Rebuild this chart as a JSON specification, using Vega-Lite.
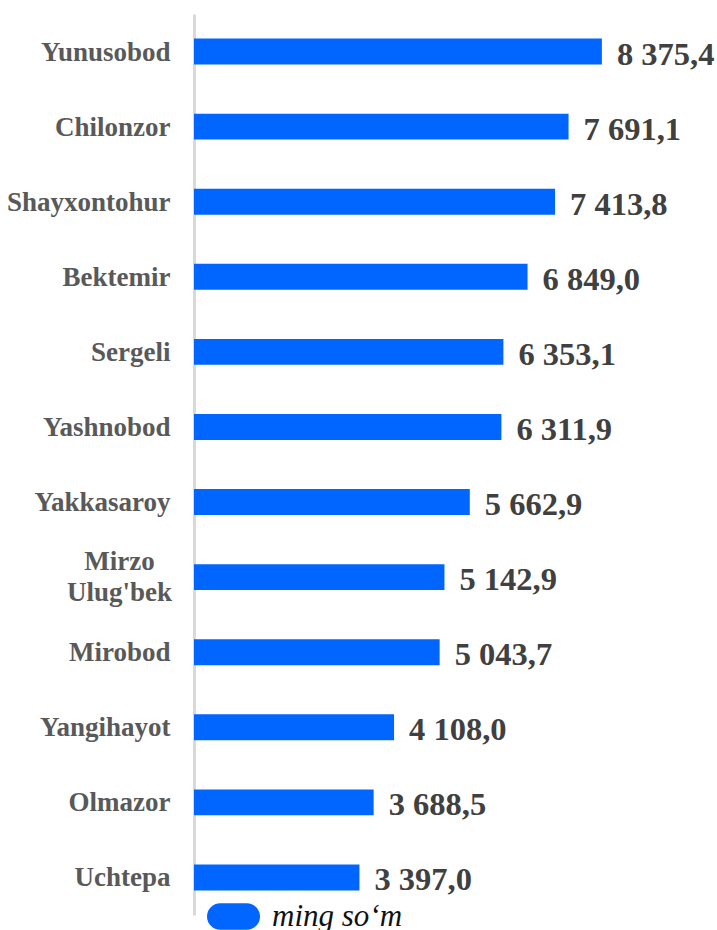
{
  "$schema": "https://vega.github.io/schema/vega-lite/v6.json",
  "width": 523,
  "height": 901,
  "autosize": {"type": "none"},
  "padding": {"left": 194, "top": 14, "right": 0, "bottom": 15},
  "background": "white",
  "config": {
    "view": {"stroke": null},
    "locale": {"number": {"decimal": ",", "thousands": " ", "grouping": [3], "currency": ["", ""]}}
  },
  "data": {
    "values": [
      {"tuman": "Yunusobod", "qiymat": 8375.4},
      {"tuman": "Chilonzor", "qiymat": 7691.1},
      {"tuman": "Shayxontohur", "qiymat": 7413.8},
      {"tuman": "Bektemir", "qiymat": 6849.0},
      {"tuman": "Sergeli", "qiymat": 6353.1},
      {"tuman": "Yashnobod", "qiymat": 6311.9},
      {"tuman": "Yakkasaroy", "qiymat": 5662.9},
      {"tuman": "Mirzo Ulug'bek", "qiymat": 5142.9},
      {"tuman": "Mirobod", "qiymat": 5043.7},
      {"tuman": "Yangihayot", "qiymat": 4108.0},
      {"tuman": "Olmazor", "qiymat": 3688.5},
      {"tuman": "Uchtepa", "qiymat": 3397.0}
    ]
  },
  "encoding": {
    "y": {
      "field": "tuman",
      "type": "nominal",
      "sort": null,
      "scale": {"paddingInner": 0.654, "paddingOuter": 0.327},
      "axis": {
        "title": null,
        "ticks": false,
        "tickSize": 0,
        "domainColor": "#D9D9D9",
        "domainWidth": 3,
        "labelFont": "Liberation Serif",
        "labelFontWeight": "bold",
        "labelFontSize": 27,
        "labelColor": "#595959",
        "labelLimit": 300,
        "labelLineHeight": 31,
        "labelExpr": "indexof(datum.value, 'Mirzo') >= 0 ? split(datum.value, ' ') : datum.value",
        "labelPadding": {"condition": {"test": "indexof(datum.value, 'Mirzo') >= 0", "value": 75}, "value": 24},
        "labelOffset": {"condition": {"test": "indexof(datum.value, 'Mirzo') >= 0", "value": -15}, "value": 1},
        "labelAlign": {"condition": {"test": "indexof(datum.value, 'Mirzo') >= 0", "value": "center"}, "value": "right"}
      }
    },
    "x": {
      "field": "qiymat",
      "type": "quantitative",
      "scale": {"domain": [0, 10739], "nice": false},
      "axis": null
    }
  },
  "layer": [
    {
      "mark": {"type": "bar"},
      "encoding": {
        "color": {
          "datum": "ming so‘m",
          "type": "nominal",
          "scale": {"range": ["#0066FF"]},
          "legend": {
            "orient": "none",
            "legendX": 13,
            "legendY": 876,
            "title": null,
            "padding": 0,
            "symbolType": "M-0.5,-0.5L0.5,-0.5A0.5,0.5,0,0,1,0.5,0.5L-0.5,0.5A0.5,0.5,0,0,1,-0.5,-0.5Z",
            "symbolSize": 2809,
            "symbolStrokeWidth": 0,
            "labelFont": "Liberation Serif",
            "labelFontStyle": "italic",
            "labelFontSize": 31,
            "labelColor": "#111111",
            "labelOffset": 12,
            "labelLimit": 300,
            "encode": {"symbols": {"update": {"fill": {"value": "#1874C4"}, "stroke": {"value": "transparent"}, "opacity": {"value": 1}}}}
          }
        }
      }
    },
    {
      "mark": {
        "type": "text",
        "align": "left",
        "baseline": "middle",
        "dx": 15,
        "dy": 3,
        "font": "Liberation Serif",
        "fontWeight": "bold",
        "fontSize": 32.5,
        "color": "#404040"
      },
      "encoding": {
        "text": {"field": "qiymat", "type": "quantitative", "format": ",.1f"}
      }
    }
  ]
}
